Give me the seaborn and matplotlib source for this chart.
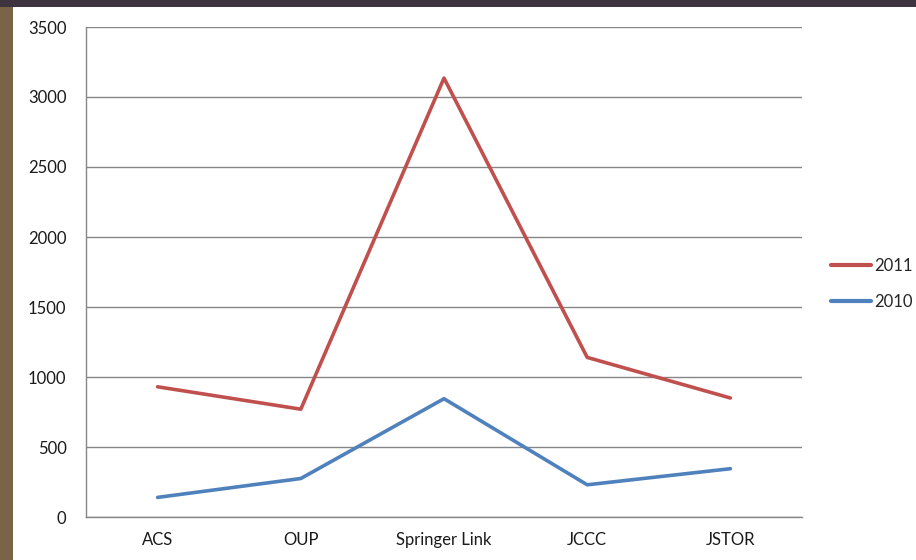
import pandas as pd
import matplotlib
matplotlib.use("Agg")
import matplotlib.pyplot as plt
import seaborn as sns
from matplotlib.patches import Rectangle

# data
sites = ["ACS", "OUP", "Springer Link", "JCCC", "JSTOR"]
values_2011 = [930, 770, 3135, 1140, 850]
values_2010 = [140, 275, 845, 230, 345]
years = ["2011", "2010"]
colors = {"2011": "#C0504D", "2010": "#4F81BD"}


def main():
    df = pd.DataFrame({
        "site": sites * 2,
        "value": values_2011 + values_2010,
        "year": ["2011"] * len(sites) + ["2010"] * len(sites),
    })

    sns.set_style("white")
    plt.rcParams["font.family"] = ["Lato", "DejaVu Sans"]

    fig = plt.figure(figsize=(9.16, 5.6), dpi=100)
    fig.patch.set_facecolor("white")
    # dark edge of the screenshot (left and top strips)
    fig.patches.append(Rectangle((0, 0), 13 / 916, 1, transform=fig.transFigure,
                                 facecolor="#7a6448", edgecolor="none"))
    fig.patches.append(Rectangle((0, 1 - 7 / 560), 1, 7 / 560, transform=fig.transFigure,
                                 facecolor="#3e3440", edgecolor="none"))

    ax = fig.add_axes([86 / 916, 43 / 560, 716 / 916, 490 / 560])
    ax.set_facecolor("none")

    sns.lineplot(data=df, x="site", y="value", hue="year", hue_order=years,
                 palette=colors, sort=False, lw=2.6, ax=ax)

    ax.set_xlim(-0.5, len(sites) - 0.5)
    ax.set_ylim(0, 3500)
    ax.set_yticks(range(0, 3501, 500))
    ax.set_xlabel("")
    ax.set_ylabel("")

    ax.yaxis.grid(True, color="#868686", lw=1)
    ax.set_axisbelow(True)
    for s in ["top", "right"]:
        ax.spines[s].set_visible(False)
    for s in ["left", "bottom"]:
        ax.spines[s].set_color("#868686")
        ax.spines[s].set_linewidth(1)

    # category ticks between the labels, like the office chart
    ax.set_xticks(range(len(sites)))
    ax.set_xticks([i - 0.5 for i in range(len(sites) + 1)], minor=True)
    ax.tick_params(axis="x", which="major", length=0, pad=11, labelsize=12, colors="#1a1a1a")
    ax.tick_params(axis="x", which="minor", length=6, color="#868686", direction="out")
    ax.tick_params(axis="y", length=6, color="#868686", direction="out", pad=8,
                   labelsize=12, labelcolor="#1a1a1a")

    leg = ax.legend(loc="center left", bbox_to_anchor=(1.02, 0.476), frameon=False,
                    fontsize=12, handlelength=2.4, handletextpad=0.2, labelspacing=1.2)
    for line in leg.get_lines():
        line.set_linewidth(3)

    fig.savefig("out.png", dpi=100, facecolor=fig.get_facecolor())


if __name__ == "__main__":
    main()
